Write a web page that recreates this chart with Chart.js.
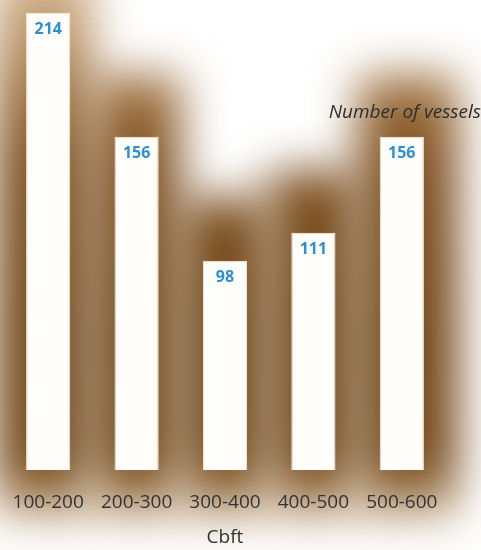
<!DOCTYPE html>
<html>
<head>
<meta charset="utf-8">
<script src="https://cdn.jsdelivr.net/npm/chart.js@4.4.1/dist/chart.umd.min.js"></script>
<style>
  html, body { margin: 0; padding: 0; background: #ffffff; }
  #wrap { width: 481px; height: 550px; position: relative; }
</style>
</head>
<body>
<div id="wrap"><canvas id="c" width="481" height="550"></canvas></div>
<script>
// Vessel counts per cubic-feet capacity band
const categories = ['100-200', '200-300', '300-400', '400-500', '500-600'];
const vesselCounts = [214, 156, 98, 111, 156];
const axisTitle = 'Cbft';
const seriesTitle = 'Number of vessels';

// Soft brown glow that rises behind each column
const glowPlugin = {
  id: 'glow',
  beforeDraw(chart) {
    const { ctx, chartArea } = chart;
    const meta = chart.getDatasetMeta(0);
    const xs = chart.scales.x;
    const step = xs.width / categories.length;
    const grad = ctx.createLinearGradient(0, 0, 0, 545);
    grad.addColorStop(0.00, 'rgb(205,172,132)');
    grad.addColorStop(0.20, 'rgb(150,105,56)');
    grad.addColorStop(0.30, 'rgb(126,81,33)');
    grad.addColorStop(0.60, 'rgb(114,72,27)');
    grad.addColorStop(0.85, 'rgb(116,74,29)');
    grad.addColorStop(0.90, 'rgb(160,122,76)');
    grad.addColorStop(0.95, 'rgb(220,205,185)');
    grad.addColorStop(1.00, 'rgb(255,255,255)');
    ctx.save();
    ctx.filter = 'blur(23px)';
    ctx.fillStyle = grad;
    meta.data.forEach((bar, i) => {
      let left = bar.x - step / 2;
      let right = bar.x + step / 2;
      if (i === 0) left -= 8;
      if (i === categories.length - 1) right += 12;
      const top = i === 0 ? -30 : bar.y - 62;
      ctx.fillRect(left, top, right - left, chartArea.bottom + 50 - top);
    });
    ctx.restore();
  },
  afterDatasetsDraw(chart) {
    const { ctx, chartArea } = chart;
    const meta = chart.getDatasetMeta(0);
    ctx.save();
    ctx.textAlign = 'center';
    ctx.textBaseline = 'middle';
    ctx.fillStyle = '#2a8fd4';
    ctx.font = 'bold 16px "Open Sans", sans-serif';
    meta.data.forEach((bar, i) => {
      ctx.fillText(String(vesselCounts[i]), bar.x, bar.y + 17);
    });
    ctx.fillStyle = '#2e2e2e';
    ctx.font = 'italic 19px "Open Sans", sans-serif';
    ctx.textAlign = 'right';
    ctx.fillText(seriesTitle, chartArea.right + 35, chartArea.top + 113);
    ctx.restore();
  }
};

new Chart(document.getElementById('c'), {
  type: 'bar',
  data: {
    labels: categories,
    datasets: [{
      data: vesselCounts,
      backgroundColor: '#fffdf9',
      borderColor: 'rgba(255,238,212,1)',
      borderWidth: 1,
      barPercentage: 0.5,
      categoryPercentage: 1.0
    }]
  },
  options: {
    responsive: false,
    animation: false,
    devicePixelRatio: 1,
    layout: { padding: { left: 4, right: 35, top: 0, bottom: 3 } },
    plugins: {
      legend: { display: false },
      tooltip: { enabled: false }
    },
    scales: {
      x: {
        grid: { display: false, drawTicks: true, tickLength: 21 },
        border: { display: false },
        ticks: {
          color: '#333333',
          font: { family: '"Open Sans", sans-serif', size: 19, lineHeight: 1 },
          padding: 2
        },
        title: {
          display: true,
          text: axisTitle,
          color: '#333333',
          font: { family: '"Open Sans", sans-serif', size: 19, lineHeight: 1 },
          padding: { top: 14, bottom: 0 }
        }
      },
      y: {
        display: false,
        min: 0,
        max: 220
      }
    }
  },
  plugins: [glowPlugin]
});
</script>
</body>
</html>
